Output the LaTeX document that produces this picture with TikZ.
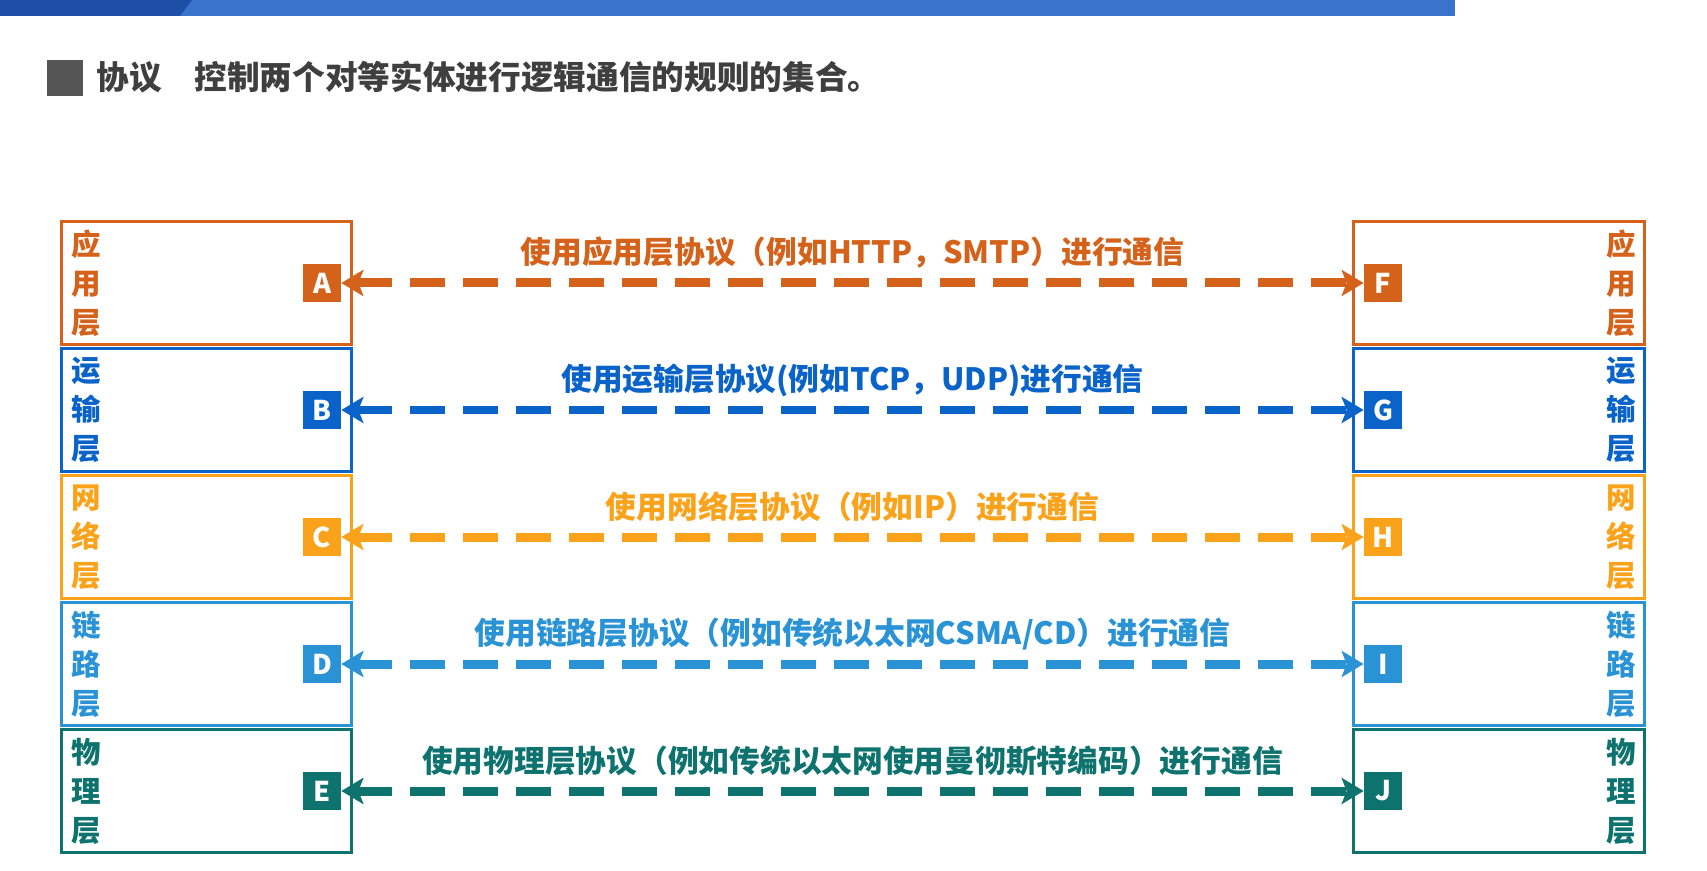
\documentclass[tikz,border=0pt]{standalone}
\usepackage{fontspec}
\setmainfont{Noto Sans CJK SC}
\usepackage{tikz}
\usetikzlibrary{positioning,arrows.meta}
\definecolor{appcol}{HTML}{D5621A}
\definecolor{tracol}{HTML}{0A63C9}
\definecolor{netcol}{HTML}{FBA21B}
\definecolor{lnkcol}{HTML}{2993D6}
\definecolor{phycol}{HTML}{0E736E}
\definecolor{barblue}{HTML}{3A73CC}
\definecolor{bardark}{HTML}{1E4FA6}
\definecolor{headgray}{HTML}{555555}
\definecolor{headtext}{HTML}{3F3F3F}
\newcommand\protofont{\fontsize{17.5}{20}\selectfont\bfseries}
\newcommand\laychar{\fontsize{16.8}{22.2}\selectfont\bfseries}
\newcommand\tagfont{\fontsize{15.5}{18}\selectfont\bfseries}
\newcommand\headfont{\fontsize{18.6}{22}\selectfont\bfseries}
\tikzset{
  laybox/.style={draw=#1, line width=0.06cm, minimum width=5.81cm, minimum height=2.48cm, inner sep=0pt},
  laytext/.style={text=#1, font=\laychar, align=center, inner sep=0pt},
  tagbox/.style={fill=#1, text=white, font=\tagfont, minimum size=0.76cm, inner sep=0pt},
  proto/.style={draw=#1, line width=0.18cm, dash pattern=on 0.7cm off 0.36cm,
    {Stealth[length=0.44cm,width=0.52cm,inset=0.1cm]}-{Stealth[length=0.44cm,width=0.52cm,inset=0.1cm]}},
  protolabel/.style={text=#1, font=\protofont, inner sep=0pt, yshift=0.6cm}
}

\begin{document}
\begin{tikzpicture}[x=0.02cm, y=-0.02cm]
  \useasboundingbox (0,0) rectangle (1707,871);

  % slide header strip
  \fill[barblue] (0,0) rectangle (1455,16);
  \fill[bardark] (0,0) -- (192,0) -- (180,16) -- (0,16) -- cycle;

  % definition line
  \node[fill=headgray, minimum size=0.72cm, inner sep=0pt] (mark) at (65,78) {};
  \node[anchor=west, text=headtext, font=\headfont, inner sep=0pt] (term) at (96,77) {协议};
  \node[anchor=west, text=headtext, font=\headfont, inner sep=0pt] (defn) at (194,77) {控制两个对等实体进行逻辑通信的规则的集合。};

  % five layers, peer to peer
  \foreach \y/\lt/\rt/\col/\lay/\txt in {
    283/A/F/appcol/{应\\用\\层}/{使用应用层协议（例如HTTP，SMTP）进行通信},
    410/B/G/tracol/{运\\输\\层}/{使用运输层协议(例如TCP，UDP)进行通信},
    537/C/H/netcol/{网\\络\\层}/{使用网络层协议（例如IP）进行通信},
    664/D/I/lnkcol/{链\\路\\层}/{使用链路层协议（例如传统以太网CSMA/CD）进行通信},
    791/E/J/phycol/{物\\理\\层}/{使用物理层协议（例如传统以太网使用曼彻斯特编码）进行通信}} {
    \node[laybox=\col] (L\lt) at (206.5,\y) {};
    \node[laybox=\col] (R\rt) at (1499,\y) {};
    \node[laytext=\col] (Lt\lt) at (86,\y) {\lay};
    \node[laytext=\col] (Rt\rt) at (1621,\y) {\lay};
    \node[tagbox=\col] (\lt) at (322,\y) {\lt};
    \node[tagbox=\col] (\rt) at (1383,\y) {\rt};
    \draw[proto=\col] (\lt) -- node[protolabel=\col] (M\lt) {\txt} (\rt);
  }
\end{tikzpicture}
\end{document}
